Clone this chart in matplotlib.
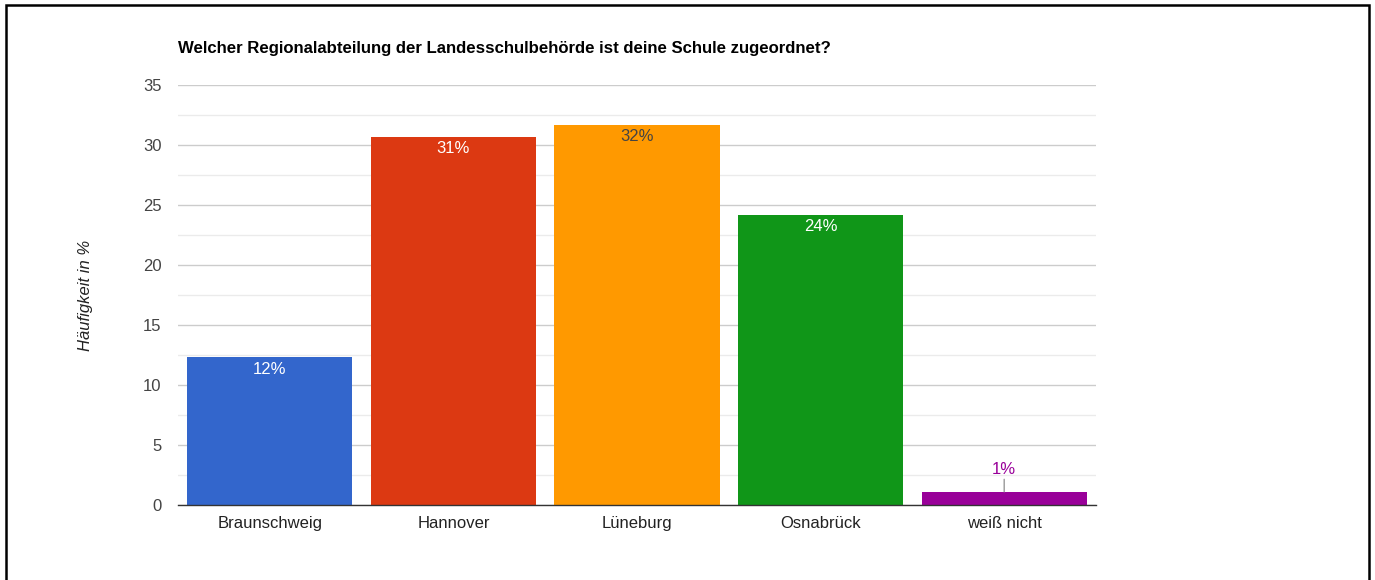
import matplotlib.pyplot as plt
from matplotlib.patches import Rectangle

plt.rcParams['font.family'] = ['Liberation Sans', 'DejaVu Sans']

# Daten
regionen = ['Braunschweig', 'Hannover', 'Lüneburg', 'Osnabrück', 'weiß nicht']
werte = [12.3, 30.7, 31.7, 24.2, 1.1]
labels = ['12%', '31%', '32%', '24%', '1%']
farben = ['#3366cc', '#dc3912', '#ff9900', '#109618', '#990099']
label_farben = ['white', 'white', '#444444', 'white', '#990099']
y_ticks = [0, 5, 10, 15, 20, 25, 30, 35]

fs = 12

fig = plt.figure(figsize=(13.75, 5.8), dpi=100)
ax = fig.add_axes([178/1375, 1-505/580, (1096-178)/1375, (505-85)/580])

x = range(len(regionen))
ax.bar(x, werte, width=0.9, color=farben, zorder=3)

ax.set_xlim(-0.5, len(regionen)-0.5)
ax.set_ylim(0, 35)

# Gitter
ax.set_yticks(y_ticks)
ax.set_yticks([t + 2.5 for t in y_ticks[:-1]], minor=True)
ax.grid(axis='y', which='major', color='#cccccc', lw=1, zorder=0)
ax.grid(axis='y', which='minor', color='#ebebeb', lw=1, zorder=0)
ax.tick_params(axis='y', which='both', length=0, pad=12, labelsize=fs, labelcolor='#444444')
ax.tick_params(axis='x', length=0, pad=8, labelsize=fs, labelcolor='#222222')
ax.set_xticks(list(x))
ax.set_xticklabels(regionen)

for s in ['top', 'right', 'left']:
    ax.spines[s].set_visible(False)
ax.spines['bottom'].set_color('#333333')
ax.spines['bottom'].set_linewidth(1)
ax.spines['bottom'].set_zorder(4)

# Beschriftungen
for i, (w, lab, c) in enumerate(zip(werte, labels, label_farben)):
    if w > 5:
        ax.annotate(lab, (i, w), xytext=(0, -3), textcoords='offset points',
                    ha='center', va='top', color=c, fontsize=fs, zorder=5)
    else:
        ax.annotate(lab, (i, w), xytext=(0, 11), textcoords='offset points',
                    ha='center', va='bottom', color=c, fontsize=fs, zorder=5,
                    arrowprops=dict(arrowstyle='-', color='#999999', lw=1,
                                    shrinkA=0, shrinkB=0))

ax.set_ylabel('Häufigkeit in %', fontstyle='italic', fontsize=fs,
              color='#222222', labelpad=36)

fig.text(178/1375, 1-48/580, 'Welcher Regionalabteilung der Landesschulbehörde ist deine Schule zugeordnet?',
         fontsize=12.1, fontweight='bold', ha='left', va='center')

# Rahmen
fig.patches.append(Rectangle((6/1375, -0.1), (1369-6)/1375, 1.1 - 5/580,
                             transform=fig.transFigure, fill=False,
                             edgecolor='black', lw=1.8, clip_on=False))

fig.savefig('out.png', dpi=100)
